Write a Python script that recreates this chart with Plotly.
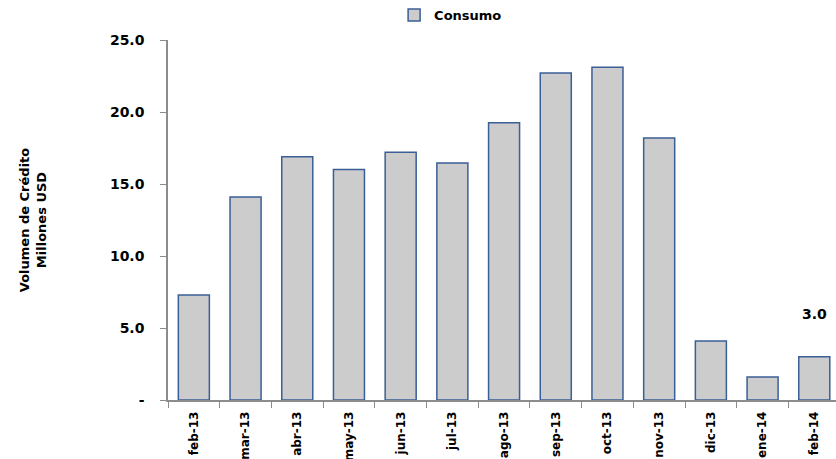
import plotly.graph_objects as go

categories = ["feb-13", "mar-13", "abr-13", "may-13", "jun-13", "jul-13", "ago-13",
              "sep-13", "oct-13", "nov-13", "dic-13", "ene-14", "feb-14"]
consumo = [7.3, 14.1, 16.9, 16.0, 17.2, 16.45, 19.25, 22.7, 23.1, 18.2, 4.1, 1.6, 3.0]
y_tickvals = [0, 5, 10, 15, 20, 25]
y_ticktext = ["-", "5.0", "10.0", "15.0", "20.0", "25.0"]

FONT = "DejaVu Sans"

fig = go.Figure()
fig.add_trace(go.Bar(
    x=categories, y=consumo, name="<b>Consumo</b>",
    marker=dict(color="#CCCCCC", line=dict(color="#3A5F96", width=1.5)),
    width=0.6,
))

fig.add_annotation(
    x=categories[-1], y=consumo[-1], text="<b>%.1f</b>" % consumo[-1], showarrow=False,
    yshift=43, font=dict(family=FONT, size=14, color="#000000"),
)

fig.update_layout(
    width=836, height=459,
    margin=dict(l=168, r=0, t=40, b=59),
    paper_bgcolor="white", plot_bgcolor="white",
    showlegend=True,
    legend=dict(
        orientation="h", xref="container", yref="container",
        x=0.539, xanchor="center", y=1.0, yanchor="top",
        font=dict(family=FONT, size=13, color="#000000"),
        itemwidth=30,
    ),
    font=dict(family=FONT, color="#000000"),
)

fig.update_xaxes(
    range=[-0.5, 12.42],
    showline=True, linecolor="#8C8C8C", linewidth=1.5,
    ticks="outside", tickson="boundaries", ticklen=6, tickcolor="#8C8C8C",
    tickangle=-90, tickfont=dict(family=FONT, size=12, color="#000000"),
    tickprefix="<b>", ticksuffix="</b>", ticklabelstandoff=5,
    automargin=False, showgrid=False,
)
fig.update_yaxes(
    range=[0, 25],
    tickvals=y_tickvals, ticktext=["<b>%s</b>" % t for t in y_ticktext],
    showline=True, linecolor="#8C8C8C", linewidth=1.5,
    ticks="outside", ticklen=6, tickcolor="#8C8C8C", ticklabelstandoff=13,
    tickfont=dict(family=FONT, size=14, color="#000000"),
    showgrid=False, zeroline=False, automargin=False,
    title=dict(text="<b>Volumen de Crédito<br>Millones USD</b>",
               font=dict(family=FONT, size=13, color="#000000"), standoff=60),
)

fig.write_html("out.html", config={"displayModeBar": False},
               post_script="document.body.style.margin='0';document.documentElement.style.margin='0';")
